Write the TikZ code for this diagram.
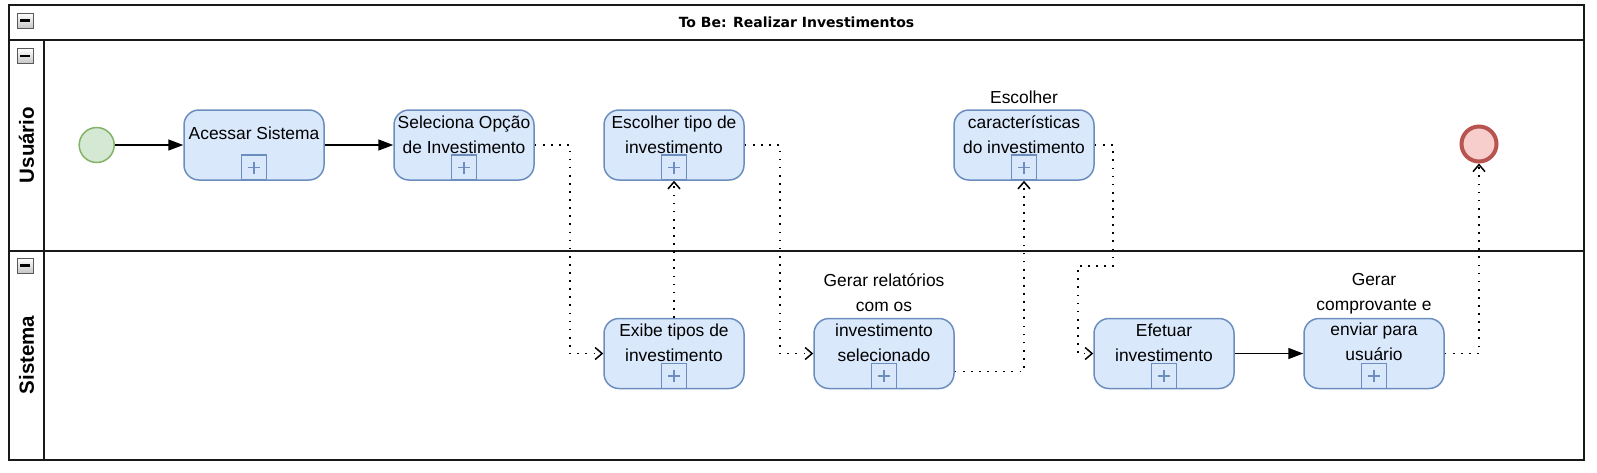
\documentclass[tikz,border=0pt]{standalone}
\usepackage{fontspec}
\setmainfont{Liberation Sans}
\newfontfamily\titlefont{DejaVu Sans}
\usetikzlibrary{arrows.meta,calc}
\definecolor{taskfill}{HTML}{DAE8FC}
\definecolor{taskline}{HTML}{6C8EBF}
\definecolor{startfill}{HTML}{D5E8D4}
\definecolor{startline}{HTML}{82B366}
\definecolor{endfill}{HTML}{F8CECC}
\definecolor{endline}{HTML}{B85450}
\begin{document}
\begin{tikzpicture}[x=1pt,y=-1pt,
  pool/.style={line width=2pt, draw=black!90},
  task/.style={draw=taskline, fill=taskfill, line width=1.5pt, rounded corners=15pt,
    minimum width=140pt, minimum height=70pt, inner sep=0pt},
  tasktext/.style={font=\fontsize{17.4}{25}\selectfont, align=center, inner sep=0pt},
  marker/.style={draw=taskline, line width=1.5pt, minimum size=25pt, inner sep=0pt, anchor=south,
    path picture={\draw[taskline, line width=1.3pt]
      (path picture bounding box.center) ++(-6,0) -- ++(12,0)
      (path picture bounding box.center) ++(0,-6) -- ++(0,12);}},
  startev/.style={circle, draw=startline, fill=startfill, line width=1.5pt, minimum size=35pt, inner sep=0pt},
  endev/.style={circle, draw=endline, fill=endfill, line width=4pt, minimum size=35pt, inner sep=0pt},
  flow/.style={draw=black, line width=1.5pt, -{Triangle[length=15pt,width=11pt]}},
  msg/.style={draw=black, line width=1.7pt, dash pattern=on 1.7pt off 6.4pt,
    -{Straight Barb[length=7pt,width=12pt,line width=1.5pt]}},
  collapse/.style={draw=gray!70!black, line width=0.8pt, top color=white, bottom color=gray!45,
    minimum width=16pt, minimum height=15pt, inner sep=0pt,
    path picture={\draw[black, line width=2.6pt]
      (path picture bounding box.center) ++(-5,0) -- ++(10,0);}},
  lanelabel/.style={rotate=90, font=\bfseries\fontsize{20.5}{24}\selectfont, inner sep=0pt},
]
\useasboundingbox (0,0) rectangle (1597,472);
% pool and lanes
\draw[pool] (9,5) rectangle (1584,460);
\draw[pool] (9,40) -- (1584,40);
\draw[pool] (43.7,40) -- (43.7,460);
\draw[pool] (9,250.5) -- (1584,250.5);
\node[font=\titlefont\bfseries\fontsize{14}{16}\selectfont, inner sep=0pt] (title) at (796.5,22.5) {To Be: Realizar Investimentos};
\node[collapse] (c0) at (25,20.5) {};
\node[collapse] (c1) at (25,56) {};
\node[collapse] (c2) at (25,265.5) {};
\node[lanelabel] (lane1) at (26.5,145) {Usuário};
\node[lanelabel] (lane2) at (26.5,355) {Sistema};

% events
\node[startev] (start) at (96.7,145) {};
\node[endev] (endevt) at (1479,144) {};

% tasks lane 1
\node[task] (t1) at (254,145) {};
\node[marker] (t1m) at (t1.south) {};
\node[tasktext] (t1t) at (254,133) {Acessar Sistema};
\node[task] (t2) at (464,145) {};
\node[marker] (t2m) at (t2.south) {};
\node[tasktext] (t2t) at (464,134.5) {Seleciona Opção\\de Investimento};
\node[task] (t3) at (674,145) {};
\node[marker] (t3m) at (t3.south) {};
\node[tasktext] (t3t) at (674,134.5) {Escolher tipo de\\investimento};
\node[task] (t4) at (1024,145) {};
\node[marker] (t4m) at (t4.south) {};
\node[tasktext] (t4t) at (1024,122) {Escolher\\características\\do investimento};

% tasks lane 2
\node[task] (s1) at (674,353.5) {};
\node[marker] (s1m) at (s1.south) {};
\node[tasktext] (s1t) at (674,342.5) {Exibe tipos de\\investimento};
\node[task] (s2) at (884,353.5) {};
\node[marker] (s2m) at (s2.south) {};
\node[tasktext] (s2t) at (884,317.5) {Gerar relatórios\\com os\\investimento\\selecionado};
\node[task] (s3) at (1164,353.5) {};
\node[marker] (s3m) at (s3.south) {};
\node[tasktext] (s3t) at (1164,342.5) {Efetuar\\investimento};
\node[task] (s4) at (1374,353.5) {};
\node[marker] (s4m) at (s4.south) {};
\node[tasktext] (s4t) at (1374,317.5) {Gerar\\comprovante e\\enviar para\\usuário};

% sequence flows
\draw[flow] (start) -- (t1);
\draw[flow] (t1) -- (t2);
\draw[flow] (s3) -- (s4);

% message flows
\draw[msg] (t2.east) -- ++(35,0) |- (s1.west);
\draw[msg] (s1.north) -- (t3m.south);
\draw[msg] (t3.east) -- ++(35,0) |- (s2.west);
\draw[msg] ($(s2.south east)!0.25!(s2.north east)$) -| (t4m.south);
\draw[msg] (t4.east) -- ++(18,0) -- ++(0,121) -- ++(-35,0) |- (s3.west);
\draw[msg] (s4.east) -| (endevt.south);
\end{tikzpicture}
\end{document}
